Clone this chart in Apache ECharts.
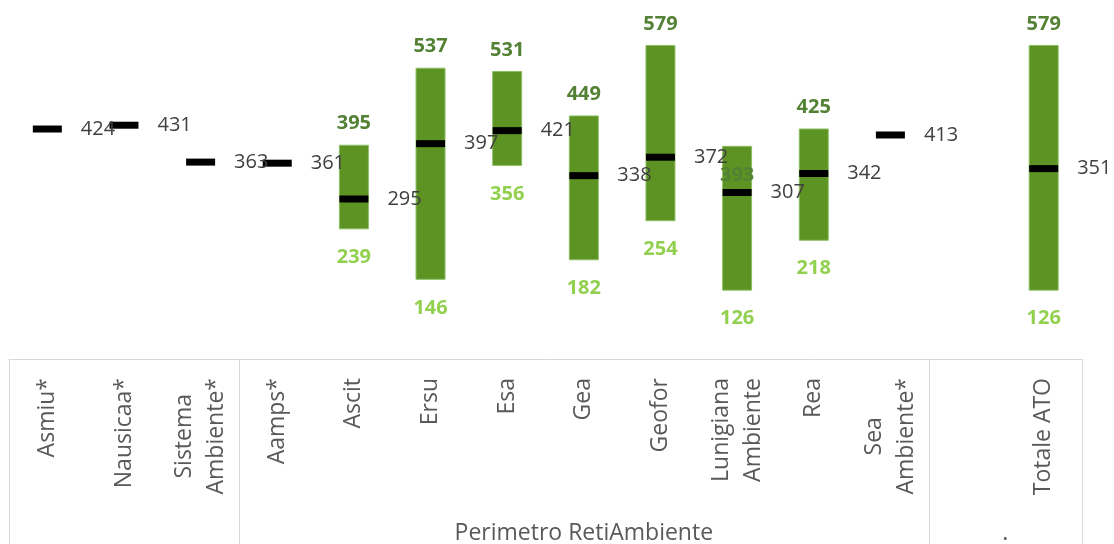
<!DOCTYPE html>
<html><head><meta charset="utf-8">
<script src="https://cdn.jsdelivr.net/npm/echarts@6/dist/echarts.min.js"></script>
<style>html,body{margin:0;padding:0;background:#fff}#c{width:1114px;height:544px}</style>
</head><body><div id="c"></div>
<script>
// ---- data ----
const categories = ['Asmiu*', 'Nausicaa*', 'Sistema\nAmbiente*', 'Aamps*', 'Ascit', 'Ersu', 'Esa', 'Gea', 'Geofor', 'Lunigiana\nAmbiente', 'Rea', 'Sea\nAmbiente*', '', 'Totale ATO'];
const minValues = [null, null, null, null, 239, 146, 356, 182, 254, 126, 218, null, null, 126];
const maxValues = [null, null, null, null, 395, 537, 531, 449, 579, 393, 425, null, null, 579];
const avgValues = [424, 431, 363, 361, 295, 397, 421, 338, 372, 307, 342, 413, null, 351];
const groupNames = ['', 'Perimetro RetiAmbiente', '.'];
const groupStart = [0, 3, 12];
const groupEnd = [3, 12, 14];
const yMax = 660;

// ---- styles ----
const GREEN = '#5c9322', DARK = '#548235', LIGHT = '#92d050';
const FONT = 'Open Sans';

const baseData = minValues.map(v => v == null ? null : v);
const rangeData = minValues.map((v, i) => {
  if (v == null) return null;
  const item = { value: maxValues[i] - v };
  if (categories[i] === 'Lunigiana\nAmbiente') {
    item.label = { position: 'insideTop', distance: 19 };
  }
  return item;
});

const chart = echarts.init(document.getElementById('c'));
chart.setOption({
  animation: false,
  grid: { left: 9, right: 32, top: 1, bottom: 185 },
  xAxis: {
    type: 'category', data: categories,
    axisLine: { lineStyle: { color: '#d9d9d9', width: 1 } },
    axisTick: { show: false },
    axisLabel: {
      interval: 0, rotate: 90, margin: 19,
      formatter: v => v === '' ? '' : v.split('\n').map(s => '{c|' + s + '}').join('\n'),
      rich: { c: { fontFamily: FONT, fontSize: 23, color: '#595959', align: 'center', lineHeight: 32 } }
    }
  },
  yAxis: { type: 'value', min: 0, max: yMax, show: false, splitLine: { show: false } },
  series: [
    {
      type: 'bar', stack: 'r', data: baseData, barWidth: 30, silent: true,
      itemStyle: { color: 'rgba(0,0,0,0)' },
      label: {
        show: true, position: 'insideTop', distance: 18,
        formatter: p => minValues[p.dataIndex],
        color: LIGHT, fontWeight: 'bold', fontSize: 20, fontFamily: FONT
      }
    },
    {
      type: 'bar', stack: 'r', data: rangeData, barWidth: 30,
      itemStyle: { color: GREEN, borderColor: '#8cbf66', borderWidth: 1 },
      label: {
        show: true, position: 'top', distance: 11,
        formatter: p => maxValues[p.dataIndex],
        color: DARK, fontWeight: 'bold', fontSize: 20, fontFamily: FONT
      }
    },
    {
      type: 'scatter', data: avgValues, symbol: 'rect', symbolSize: [29, 7], z: 5,
      itemStyle: { color: '#000000', opacity: 1 },
      label: {
        show: true, position: 'right', distance: 19, opacity: 1,
        formatter: p => avgValues[p.dataIndex],
        color: '#404040', fontSize: 20, fontFamily: FONT
      }
    }
  ]
});

// ---- group separators and group labels, positioned through the axis scale ----
const px = i => chart.convertToPixel({ xAxisIndex: 0 }, i);
const bw = px(1) - px(0);
const left0 = px(0) - bw / 2;
const yAxisPix = chart.convertToPixel({ yAxisIndex: 0 }, 0);
const bounds = [0].concat(groupEnd);
const graphics = [];
bounds.forEach(b => {
  const x = Math.round(left0 + b * bw) + 0.5;
  graphics.push({ type: 'line', silent: true, shape: { x1: x, y1: yAxisPix, x2: x, y2: 544 }, style: { stroke: '#d9d9d9', lineWidth: 1 } });
});
groupNames.forEach((n, gi) => {
  if (!n) return;
  const cx = left0 + (groupStart[gi] + groupEnd[gi]) / 2 * bw;
  graphics.push({ type: 'text', silent: true, x: cx, y: 533, style: { text: n, fill: '#595959', font: '23px "' + FONT + '"', align: 'center', verticalAlign: 'middle' } });
});
chart.setOption({ graphic: graphics });
</script>
</body></html>
